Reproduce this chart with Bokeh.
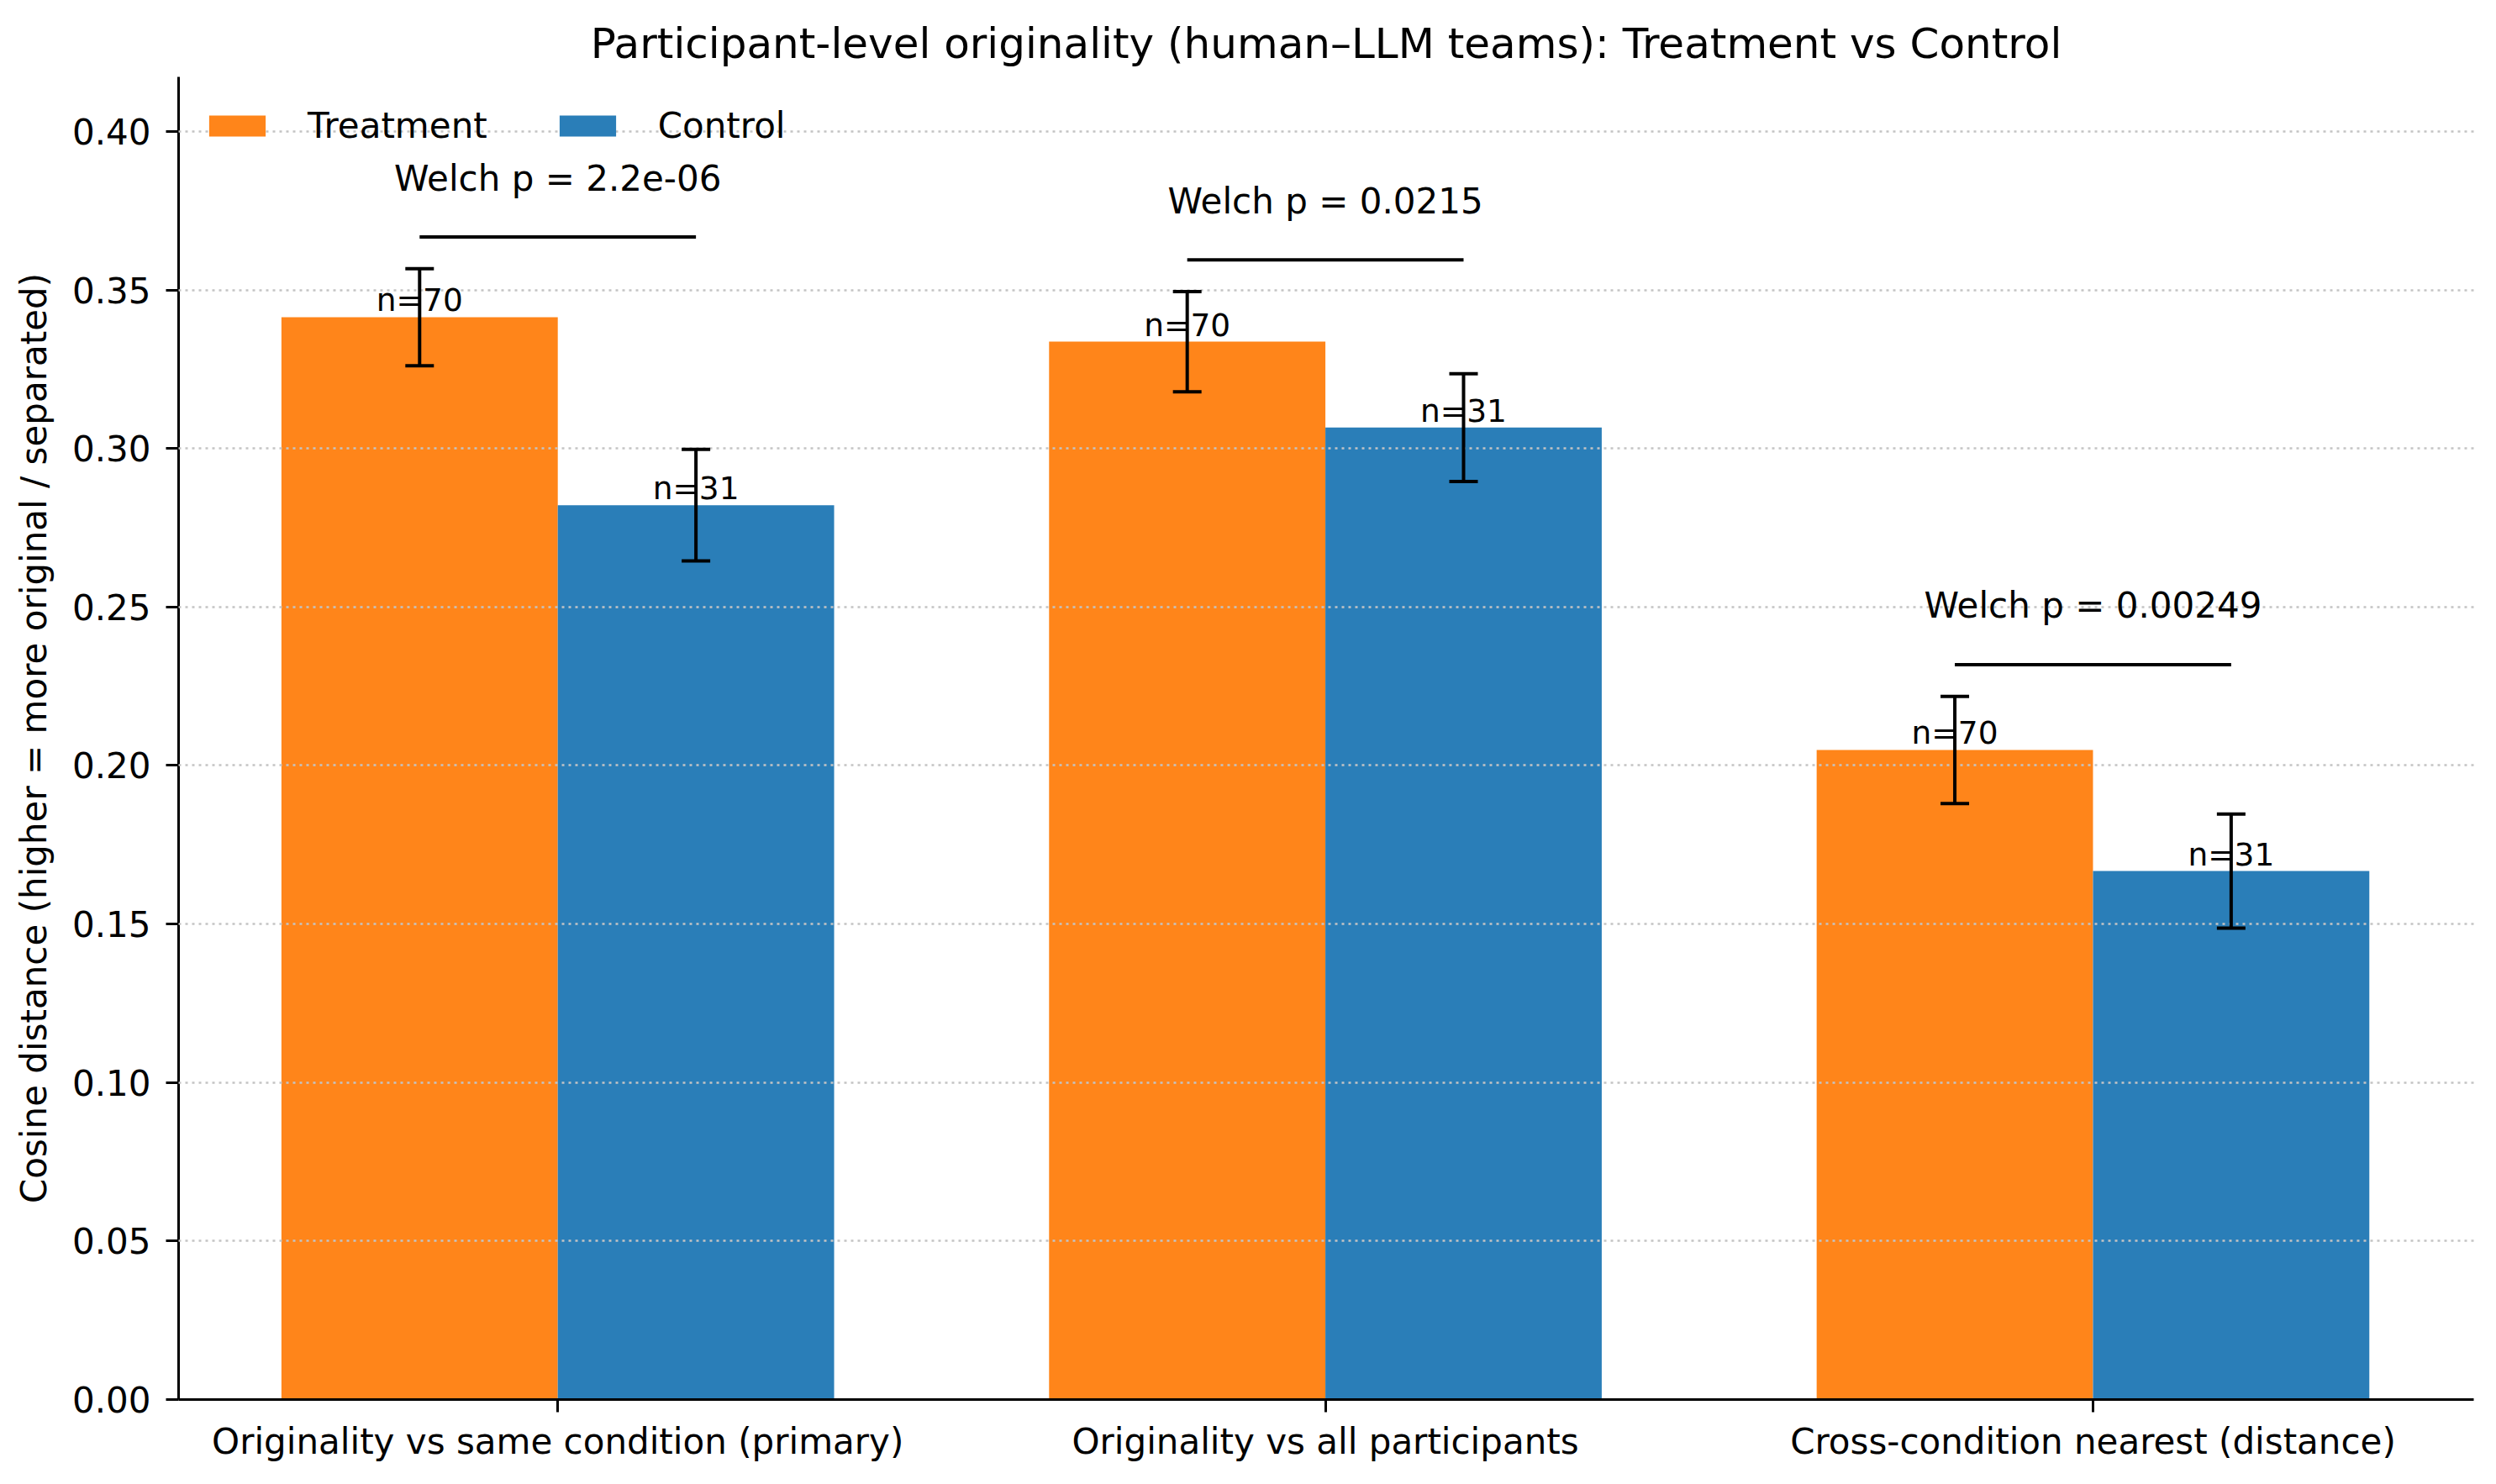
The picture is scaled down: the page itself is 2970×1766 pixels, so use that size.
import numpy as np
from bokeh.plotting import figure
from bokeh.models import Range1d, FixedTicker, Whisker, TeeHead, ColumnDataSource, NumeralTickFormatter
from bokeh.core.properties import value
from bokeh.embed import file_html
from bokeh.resources import INLINE

# ---- data ----
categories = ["Originality vs same condition (primary)",
              "Originality vs all participants",
              "Cross-condition nearest (distance)"]
treatment_mean = [0.3414, 0.3337, 0.2049]
treatment_err = [0.0153, 0.0158, 0.0169]
control_mean = [0.2821, 0.3066, 0.1667]
control_err = [0.0176, 0.0170, 0.0180]
treatment_n = [70, 70, 70]
control_n = [31, 31, 31]
p_labels = ["Welch p = 2.2e-06", "Welch p = 0.0215", "Welch p = 0.00249"]
y_ticks = [0.0, 0.05, 0.10, 0.15, 0.20, 0.25, 0.30, 0.35, 0.40]

FONT = "DejaVu Sans"
ORANGE = "#ff851a"
BLUE = "#2a7eb8"
width = 0.36

x = np.arange(len(categories))
xt = x - width / 2
xc = x + width / 2
tm = np.array(treatment_mean); te = np.array(treatment_err)
cm = np.array(control_mean); ce = np.array(control_err)

p = figure(width=2954, height=1750, output_backend="svg", toolbar_location=None,
           x_range=Range1d(-0.494, 2.496), y_range=Range1d(0, 0.4172),
           min_border_left=212, min_border_right=11, min_border_top=91, min_border_bottom=85,
           title="Participant-level originality (human\u2013LLM teams): Treatment vs Control")

p.title.text_font = FONT
p.title.text_font_size = "50px"
p.title.text_font_style = "normal"
p.title.text_color = "black"
p.title.align = "center"
p.title.standoff = 22
p.outline_line_color = None
p.background_fill_color = "white"

# grid above bars
p.xgrid.visible = False
p.ygrid.ticker = FixedTicker(ticks=y_ticks)
p.ygrid.grid_line_color = "#c4c4c4"
p.ygrid.grid_line_width = 2.5
p.ygrid.grid_line_dash = "3 5"
p.ygrid.level = "guide"

# bars
rt = p.vbar(x=xt, top=tm, width=width, fill_color=ORANGE, line_color=None, legend_label="Treatment")
rc = p.vbar(x=xc, top=cm, width=width, fill_color=BLUE, line_color=None, legend_label="Control")

# error bars
src_e = ColumnDataSource(dict(base=np.concatenate([xt, xc]),
                              upper=np.concatenate([tm + te, cm + ce]),
                              lower=np.concatenate([tm - te, cm - ce])))
wh = Whisker(base="base", upper="upper", lower="lower", source=src_e, line_width=4, line_color="black",
             upper_head=TeeHead(size=34, line_width=4, line_color="black"),
             lower_head=TeeHead(size=34, line_width=4, line_color="black"), level="annotation")
p.add_layout(wh)

# n labels
p.text(x=np.concatenate([xt, xc]), y=np.concatenate([tm, cm]),
       text=[f"n={n}" for n in treatment_n] + [f"n={n}" for n in control_n],
       text_align="center", text_baseline="alphabetic", y_offset=-20,
       text_font=value(FONT), text_font_size="37.5px", text_color="black", level="annotation")

# Welch brackets
line_y = np.maximum(tm + te, cm + ce) + 0.01
p.segment(x0=xt, x1=xc, y0=line_y, y1=line_y, line_color="black", line_width=4, level="annotation")
p.text(x=x, y=line_y, text=p_labels, text_align="center", text_baseline="alphabetic", y_offset=-70,
       text_font=value(FONT), text_font_size="42px", text_color="black", level="annotation")

# axes
for ax in (p.xaxis[0], p.yaxis[0]):
    ax.axis_line_width = 3
    ax.axis_line_color = "black"
    ax.major_tick_line_width = 3
    ax.major_tick_line_color = "black"
    ax.major_tick_in = 0
    ax.major_tick_out = 15
    ax.minor_tick_line_color = None
    ax.major_label_text_font = FONT
    ax.major_label_text_font_size = "42px"
    ax.major_label_text_color = "black"
    ax.axis_label_text_font = FONT
    ax.axis_label_text_font_size = "42px"
    ax.axis_label_text_font_style = "normal"
    ax.axis_label_text_color = "black"

p.xaxis.ticker = FixedTicker(ticks=list(x))
p.xaxis.major_label_overrides = {int(i): c for i, c in zip(x, categories)}
p.xaxis.major_label_standoff = 10
p.yaxis.ticker = FixedTicker(ticks=y_ticks)
p.yaxis.formatter = NumeralTickFormatter(format="0.00")
p.yaxis.major_label_standoff = 18
p.yaxis.axis_label = "Cosine distance (higher = more original / separated)"
p.yaxis.axis_label_standoff = 18

# legend
lg = p.legend[0]
lg.orientation = "horizontal"
lg.location = (28, 1574 - 54 - 29)
lg.border_line_color = None
lg.background_fill_alpha = 0
lg.padding = 0
lg.margin = 0
lg.glyph_width = 84
lg.glyph_height = 31
lg.label_height = 31
lg.label_standoff = 42
lg.spacing = 77
lg.label_text_font = FONT
lg.label_text_font_size = "42px"
lg.label_text_color = "black"
lg.label_text_baseline = "middle"

open("out.html", "w").write(file_html(p, INLINE))
